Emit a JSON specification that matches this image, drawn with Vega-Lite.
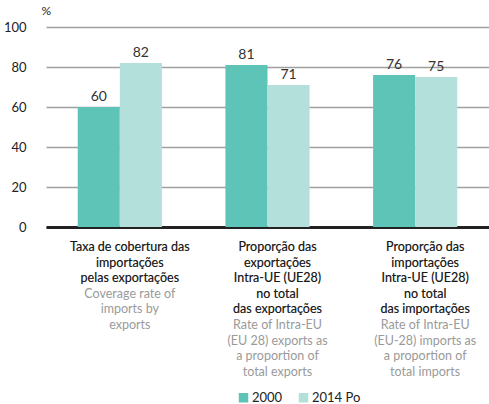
{
  "$schema": "https://vega.github.io/schema/vega-lite/v6.json",
  "width": 443,
  "height": 200,
  "autosize": "none",
  "padding": {"left": 46, "top": 27, "right": 0, "bottom": 177},
  "background": "white",
  "config": {
    "view": {"stroke": null},
    "font": "Lato",
    "axisY": {
      "domain": false, "ticks": false, "labelOverlap": false,
      "gridColor": "#a0a0a0", "gridWidth": 1.5,
      "labelFontSize": 13, "labelColor": "#222222", "labelPadding": 20,
      "titleAngle": 0, "titleAlign": "left", "titleBaseline": "middle",
      "titleX": -5, "titleY": -17, "titleFontSize": 12, "titleFontWeight": "normal", "titleColor": "#222222"
    }
  },
  "datasets": {
    "bars": [
      {"cat": "c1", "series": "2000", "value": 60},
      {"cat": "c1", "series": "2014 Po", "value": 82},
      {"cat": "c2", "series": "2000", "value": 81},
      {"cat": "c2", "series": "2014 Po", "value": 71},
      {"cat": "c3", "series": "2000", "value": 76},
      {"cat": "c3", "series": "2014 Po", "value": 75}
    ],
    "labels": [
      {"cat": "c1", "pt": "Taxa de cobertura das|importações|pelas exportações", "en": "Coverage rate of|imports by|exports"},
      {"cat": "c2", "pt": "Proporção das|exportações|Intra-UE (UE28)|no total|das exportações", "en": "Rate of Intra-EU|(EU 28) exports as|a proportion of|total exports"},
      {"cat": "c3", "pt": "Proporção das|importações|Intra-UE (UE28)|no total|das importações", "en": "Rate of Intra-EU|(EU-28) imports as|a proportion of|total imports"}
    ]
  },
  "encoding": {
    "x": {
      "field": "cat", "type": "nominal", "sort": ["c1", "c2", "c3"], "title": null,
      "scale": {"paddingInner": 0.43, "paddingOuter": 0.215},
      "axis": {"labels": false, "ticks": false, "domainColor": "#222222", "domainWidth": 3}
    }
  },
  "layer": [
    {
      "data": {"name": "bars"},
      "mark": {"type": "bar"},
      "encoding": {
        "xOffset": {"field": "series", "type": "nominal", "scale": {"paddingInner": 0, "paddingOuter": 0}},
        "y": {
          "field": "value", "type": "quantitative", "title": "%",
          "scale": {"domain": [0, 100]},
          "axis": {"values": [0, 20, 40, 60, 80, 100]}
        },
        "color": {
          "field": "series", "type": "nominal",
          "scale": {"domain": ["2000", "2014 Po"], "range": ["#5fc4b8", "#b3e0da"]},
          "legend": {
            "orient": "none", "legendX": 191, "legendY": 364, "direction": "horizontal",
            "title": null, "symbolType": "square", "symbolSize": 90, "symbolStrokeWidth": 0,
            "symbolOpacity": 1, "labelFontSize": 13, "labelColor": "#222222", "columnPadding": 14, "labelOffset": 2, "padding": 0
          }
        }
      }
    },
    {
      "data": {"name": "bars"},
      "mark": {"type": "text", "baseline": "alphabetic", "dy": -6, "fontSize": 14, "color": "#333333"},
      "encoding": {
        "xOffset": {"field": "series", "type": "nominal"},
        "y": {"field": "value", "type": "quantitative", "title": "%", "axis": {"values": [0, 20, 40, 60, 80, 100]}},
        "text": {"field": "value", "type": "quantitative"}
      }
    },
    {
      "data": {"name": "labels"},
      "mark": {"type": "text", "baseline": "top", "lineBreak": "|", "lineHeight": 15.6, "dy": 14, "dx": 10, "fontSize": 12.5, "color": "#9a9a9a", "text": {"expr": "datum.pt + '|' + datum.en"}},
      "encoding": {
        "y": {"datum": 0, "type": "quantitative", "title": "%", "axis": {"values": [0, 20, 40, 60, 80, 100]}}
      }
    },
    {
      "data": {"name": "labels"},
      "mark": {"type": "text", "baseline": "top", "lineBreak": "|", "lineHeight": 15.6, "dy": 14, "dx": 10, "fontSize": 12.5, "color": "#1a1a1a"},
      "encoding": {
        "y": {"datum": 0, "type": "quantitative", "title": "%", "axis": {"values": [0, 20, 40, 60, 80, 100]}},
        "text": {"field": "pt", "type": "nominal"}
      }
    }
  ]
}
